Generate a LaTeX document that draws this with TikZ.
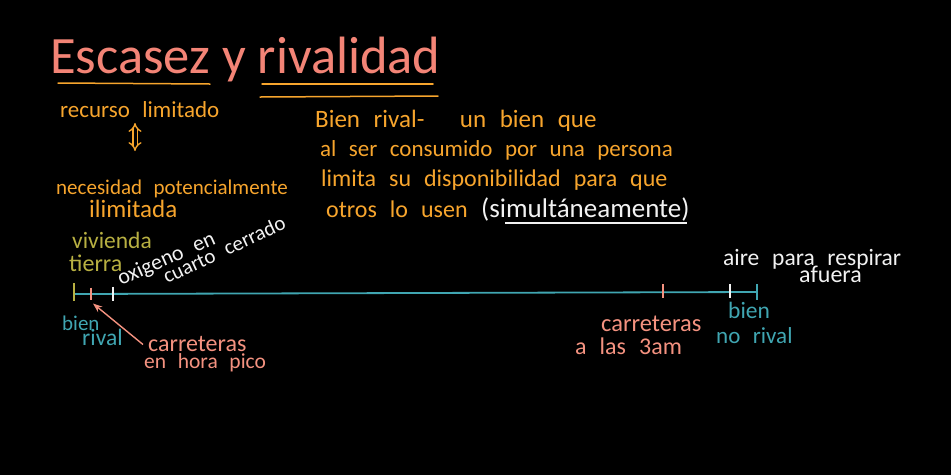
\documentclass[tikz,border=0pt]{standalone}
\usepackage{fontspec}
\setmainfont{Carlito}
\newfontfamily\manuscrita[WordSpace=2.4]{Carlito}
\usepackage{tikz}
\usetikzlibrary{arrows.meta}
\usetikzlibrary{calc}
\usepackage{xcolor}

\definecolor{salmon}{RGB}{243,132,118}
\definecolor{naranja}{RGB}{247,165,45}
\definecolor{oliva}{RGB}{184,176,66}
\definecolor{turquesa}{RGB}{64,166,178}
\definecolor{rosa}{RGB}{244,146,128}
\definecolor{blanco}{RGB}{242,242,242}

\begin{document}
\begin{tikzpicture}[x=1pt,y=-1pt,>=Stealth,
		hand/.style={anchor=base west,inner sep=0pt,font=\manuscrita\fontsize{#1}{#1}\selectfont},
		hand/.default=23,
		tickmark/.style={line width=1.6pt},
		subrayado/.style={naranja,line width=1.5pt,line cap=round}]
		
		% background
		\fill[black] (0,0) rectangle (951,475);
		\useasboundingbox (0,0) rectangle (951,475);
		
		% Title
		\node[anchor=base west,inner sep=0pt,salmon,font=\fontsize{52.5}{56}\selectfont] (titulo) at (50,73) {Escasez y rivalidad};
		\draw[subrayado] (58,83) -- (210,84);
		\draw[subrayado] (262,84) -- (433,84);
		\draw[subrayado] (260,97) -- (438,96);
		
		% Scarcity: limited resource vs unlimited need
		\begin{scope}[naranja]
			\node[hand] (recurso) at (60,117) {recurso limitado};
			\coordinate (arr1) at (135,123);
			\coordinate (arr2) at (135,151);
			\draw[double=black,double distance=3pt,line width=1.4pt,{Implies}-{Implies}] (arr1) -- (arr2);
			\node[hand=21] (necesidad) at (56,194) {necesidad potencialmente};
			\node[hand=25] (ilimitada) at (89,217) {ilimitada};
		\end{scope}
		
		% Definition of a rival good
		\begin{scope}[naranja]
			\node[hand=25] (def1) at (315,127) {Bien rival-\hspace{22pt} un bien que};
			\node[hand] (def2) at (320,156) {al ser consumido por una persona};
			\node[hand=24] (def3) at (321,186) {limita su disponibilidad para que};
			\node[hand=24] (def4) at (326,217) {otros lo usen};
		\end{scope}
		\node[hand=27,blanco] (simul) at (481,217) {(simultáneamente)};
		\draw[blanco,line width=1.3pt] (505,223) -- (687,223);
		
		% Axis from rival to non rival
		\coordinate (izq) at (74,294);
		\coordinate (der) at (757,292);
		\draw[turquesa,line width=1.8pt] (izq) -- (der);
		\coordinate (t1) at (74,294);
		\coordinate (t2) at (91,293.5);
		\coordinate (t3) at (113,293.5);
		\coordinate (t4) at (663,292.2);
		\coordinate (t5) at (730,292);
		\draw[tickmark,oliva] (t1) ++(0,-11) -- ++(0,18);
		\draw[tickmark,rosa] (t2) ++(0,-6) -- ++(0,12);
		\draw[tickmark,blanco] (t3) ++(0,-7) -- ++(0,14);
		\draw[tickmark,rosa] (t4) ++(0,-8) -- ++(0,14);
		\draw[tickmark,blanco] (t5) ++(0,-8) -- ++(0,14);
		\draw[tickmark,turquesa] (der) ++(0,-8) -- ++(0,16);
		
		% Labels above the axis
		\node[hand=23.5,oliva] (vivienda) at (72,248) {vivienda};
		\node[hand=24,oliva] (tierra) at (69,271) {tierra};
		\node[hand=22,blanco,rotate=24] (oxigeno) at (121,286) {oxigeno en};
		\node[hand=21,blanco,rotate=25] (cuarto) at (167,284) {cuarto cerrado};
		\node[hand=23.5,blanco] (aire) at (723,265) {aire para respirar};
		\node[hand=24,blanco] (afuera) at (799,282) {afuera};
		
		% Labels below the axis
		\node[hand=21,turquesa] (bien1) at (62,330) {bien};
		\node[hand=23.5,turquesa] (rival1) at (82,345) {rival};
		\node[hand=24,rosa] (carr1) at (148,351) {carreteras};
		\node[hand=21.5,rosa] (hora) at (144,368) {en hora pico};
		\draw[rosa,line width=1.4pt,->] ($(carr1.west)+(-5,1)$) -- ($(t2)+(2,10)$);
		\node[hand=24.5,rosa] (carr2) at (601,331) {carreteras};
		\node[hand=24,rosa] (tres) at (575,354) {a las 3am};
		\node[hand=23.5,turquesa] (bien2) at (728,318) {bien};
		\node[hand=23,turquesa] (norival) at (716,343) {no rival};
		
	\end{tikzpicture}
\end{document}
